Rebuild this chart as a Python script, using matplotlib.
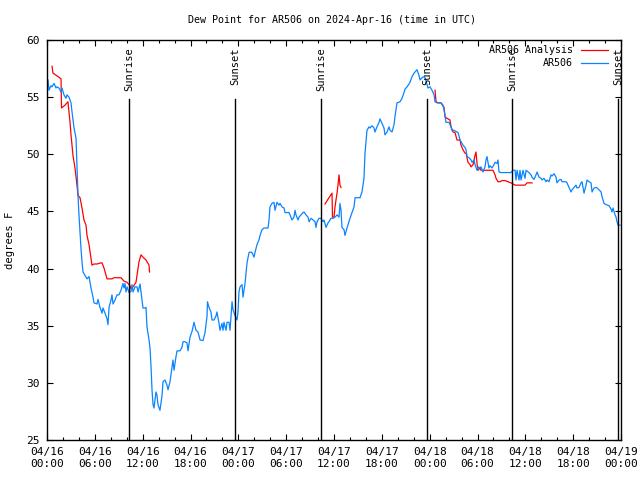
import pandas as pd
import matplotlib
matplotlib.use("Agg")
import matplotlib.pyplot as plt
import matplotlib.dates as mdates
import matplotlib.transforms as mtransforms

plt.rcParams['font.family'] = ['DejaVu Sans Mono']
plt.rcParams['font.size'] = 8

START = pd.Timestamp('2024-04-16 00:00')

# AR506 observations: hours since 04/16 00:00 UTC, dew point (degF)
obs_hours = [0.13, 0.25, 0.5, 0.63, 0.88, 1.13, 1.25, 1.5, 1.76, 1.88, 2.13, 2.38, 2.5, 2.76,
             3.01, 3.14, 3.39, 3.64, 3.76, 3.89, 4.01, 4.26, 4.39, 4.52, 4.77, 5.02, 5.27, 5.52,
             5.77, 5.9, 6.27, 6.4, 6.65, 6.9, 7.02, 7.28, 7.53, 7.65, 7.78, 8.03, 8.15, 8.28,
             8.53, 8.78, 9.03, 9.28, 9.53, 9.66, 9.78, 9.91, 10.04, 10.29, 10.54, 10.66, 10.79,
             11.04, 11.29, 11.42, 11.67, 11.92, 12.04, 12.29, 12.42, 12.54, 12.8, 12.92, 13.05,
             13.17, 13.3, 13.42, 13.67, 13.8, 13.92, 14.17, 14.43, 14.55, 14.8, 15.05, 15.18,
             15.43, 15.68, 15.8, 15.93, 16.18, 16.31, 16.68, 16.93, 17.06, 17.31, 17.56, 17.69,
             17.94, 18.19, 18.31, 18.44, 18.69, 18.94, 19.2, 19.57, 19.82, 20.07, 20.13, 20.32,
             20.57, 20.7, 20.95, 21.2, 21.32, 21.58, 21.7, 21.95, 22.08, 22.2, 22.45, 22.58,
             22.83, 22.96, 23.21, 23.33, 23.58, 23.83, 23.96, 24.08, 24.21, 24.46, 24.59, 24.84,
             25.09, 25.34, 25.46, 25.72, 25.97, 26.09, 26.34, 26.59, 26.72, 26.97, 27.22, 27.72,
             27.85, 27.97, 28.22, 28.47, 28.6, 28.85, 29.1, 29.23, 29.48, 29.73, 29.86, 30.36,
             30.48, 30.73, 30.98, 31.11, 31.23, 31.49, 31.61, 31.86, 32.11, 32.24, 32.49, 32.74,
             32.87, 33.12, 33.37, 33.62, 33.74, 33.87, 34.12, 34.37, 34.62, 34.75, 35.0, 35.25,
             35.37, 35.62, 35.88, 36.13, 36.38, 36.63, 36.75, 36.88, 37.0, 37.26, 37.38, 37.63,
             37.88, 38.01, 38.26, 38.51, 38.64, 39.26, 39.51, 39.76, 39.89, 40.14, 40.39, 40.52,
             40.77, 41.02, 41.14, 41.39, 41.65, 41.77, 42.02, 42.27, 42.4, 42.65, 42.9, 43.03,
             43.28, 43.53, 43.65, 43.9, 44.28, 44.53, 44.78, 44.91, 45.16, 45.41, 45.53, 45.79,
             46.04, 46.16, 46.41, 46.66, 46.79, 47.04, 47.29, 47.42, 47.79, 48.04, 48.3, 48.55,
             48.67, 48.92, 49.42, 49.67, 49.8, 49.93, 50.05, 50.43, 50.68, 50.8, 51.05, 51.31,
             51.56, 51.81, 51.93, 52.18, 52.43, 52.56, 52.69, 52.94, 53.19, 53.31, 53.56, 53.69,
             53.94, 54.06, 54.32, 54.44, 54.69, 54.94, 55.07, 55.19, 55.44, 55.57, 55.82, 56.07,
             56.2, 56.45, 56.57, 56.7, 56.95, 58.2, 58.46, 58.71, 58.83, 58.96, 59.21, 59.33,
             59.46, 59.71, 59.96, 60.09, 60.46, 60.71, 60.84, 61.09, 61.34, 61.47, 61.72, 61.97,
             62.09, 62.34, 62.6, 62.72, 62.97, 63.22, 63.35, 63.6, 63.85, 63.97, 64.23, 64.48,
             64.6, 65.1, 65.23, 65.48, 65.73, 65.86, 66.11, 66.36, 66.48, 66.73, 66.99, 67.11,
             67.36, 67.61, 67.74, 67.99, 68.24, 68.37, 68.62, 68.87, 68.99, 69.24, 69.5, 69.62,
             69.87, 70.12, 70.5, 70.75, 70.87, 71.0, 71.25, 71.38, 71.5, 71.63, 71.88]
obs_dewpt = [56.5, 55.6, 56.0, 55.9, 56.2, 55.8, 55.9, 55.8, 55.45, 55.8, 55.2, 54.9, 55.2, 55.0,
             54.5, 53.7, 52.3, 51.4, 49.1, 46.4, 44.7, 41.8, 40.6, 39.7, 39.4, 39.1, 39.3, 38.3,
             37.5, 37.0, 36.9, 37.3, 36.6, 36.1, 36.55, 36.1, 35.6, 35.1, 36.6, 37.25, 37.7, 36.9,
             37.25, 37.7, 37.7, 38.1, 38.7, 38.3, 38.7, 37.95, 38.4, 37.9, 38.0, 38.6, 37.95,
             38.4, 38.4, 37.95, 38.65, 37.25, 36.55, 36.55, 36.6, 34.9, 33.75, 33.05, 31.4,
             29.4, 28.1, 27.8, 29.2, 28.9, 28.1, 27.6, 28.9, 30.1, 30.25, 29.8, 29.4,
             30.1, 31.4, 32.0, 31.1, 32.3, 32.8, 32.8, 33.1, 33.6, 33.6, 33.5, 32.8,
             34.0, 34.5, 34.9, 35.3, 34.6, 34.45, 33.75, 33.7, 34.4, 35.8, 37.1, 36.6,
             36.2, 35.5, 35.5, 35.85, 36.2, 35.2, 34.6, 35.2, 34.6, 35.3, 34.6, 35.3,
             35.3, 34.6, 37.1, 36.4, 35.9, 35.5, 36.2, 37.95, 38.4, 38.6, 37.5, 38.7,
             40.5, 41.4, 41.45, 41.4, 41.0, 41.4, 42.1, 42.5, 42.9, 43.4, 43.55, 43.55,
             44.25, 45.4, 45.7, 45.8, 45.1, 45.8, 45.55, 45.7, 45.4, 45.3, 44.9, 44.9,
             44.7, 44.25, 44.5, 45.1, 44.7, 44.25, 44.5, 44.7, 44.9, 44.95, 44.7, 44.5,
             44.1, 44.4, 44.25, 44.1, 43.6, 44.1, 44.4, 44.4, 44.1, 44.25, 43.6, 44.0,
             44.1, 44.4, 44.4, 44.5, 44.7, 44.5, 45.7, 45.1, 43.6, 43.4, 42.9, 43.55,
             44.1, 44.4, 44.9, 45.4, 46.2, 46.2, 46.7, 47.9, 50.1, 52.1, 52.4, 52.3,
             52.5, 52.3, 51.95, 52.4, 52.8, 53.1, 52.7, 52.3, 51.7, 51.95, 52.4, 52.1,
             51.95, 52.6, 53.3, 54.5, 54.6, 54.9, 55.4, 55.7, 55.9, 56.15, 56.3, 56.8,
             57.1, 57.2, 57.4, 56.9, 56.5, 56.7, 56.8, 56.7, 55.8, 55.9, 55.6, 55.2,
             54.6, 54.5, 54.5, 54.3, 53.9, 53.3, 52.8, 52.8, 52.4, 52.1, 52.1, 52.0,
             51.9, 51.25, 51.1, 50.8, 50.6, 50.4, 49.8, 49.7, 49.5, 49.3, 49.5, 49.1,
             48.6, 48.9, 48.8, 48.9, 48.45, 48.9, 49.5, 49.8, 48.8, 49.0, 48.8, 49.1,
             49.3, 49.2, 49.5, 48.45, 48.4, 48.4, 48.6, 48.6, 47.75, 48.6, 47.75, 48.6,
             47.75, 48.6, 47.9, 48.6, 48.4, 48.2, 48.0, 47.8, 48.2, 48.45, 48.0, 47.9,
             47.75, 47.9, 47.6, 47.75, 47.6, 48.2, 48.1, 48.3, 48.0, 47.5, 47.75, 47.8,
             47.6, 47.6, 47.5, 47.1, 46.7, 46.9, 47.1, 47.3, 47.05, 47.1, 47.5, 47.6,
             46.6, 47.3, 47.75, 47.6, 47.5, 46.7, 47.05, 47.1, 47.05, 46.9, 46.7, 46.3,
             45.7, 45.6, 45.5, 45.2, 44.95, 45.3, 44.7, 44.5, 44.1, 43.8, 43.8]

# AR506 Analysis: three separate runs
ana1_hours = [0.63, 0.75, 1.38, 1.76, 1.82, 2.26, 2.63, 2.76, 2.89, 3.01, 3.26, 3.51, 3.76,
              3.89, 4.14, 4.39, 4.64, 4.89, 5.02, 5.27, 5.52, 5.64, 5.9, 6.27, 6.77, 6.9,
              7.15, 7.53, 8.15, 8.4, 9.28, 9.66, 10.04, 10.41, 10.54, 10.79, 11.16, 11.29,
              11.54, 11.79, 12.04, 12.42, 12.54, 12.8, 12.86]
ana1_dewpt = [57.7, 57.1, 56.8, 56.6, 54.05, 54.3, 54.6, 53.7, 52.8, 51.7, 49.9, 48.8, 47.3,
              46.4, 46.2, 45.3, 44.25, 43.8, 42.9, 42.1, 40.9, 40.3, 40.4, 40.4, 40.5, 40.5,
              40.05, 39.1, 39.1, 39.2, 39.2, 38.9, 38.8, 38.5, 38.2, 38.4, 38.8, 39.4,
              40.6, 41.2, 41.0, 40.75, 40.6, 40.3, 39.7]
ana2_hours = [34.87, 35.37, 35.75, 35.81, 36.0, 36.13, 36.25, 36.38, 36.5, 36.63, 36.75, 36.88]
ana2_dewpt = [45.65, 46.2, 46.6, 44.5, 44.5, 45.4, 46.0, 46.6, 47.3, 48.2, 47.3, 47.1]
ana3_hours = [48.67, 48.8, 49.05, 49.42, 49.8, 49.93, 50.05, 50.55, 50.68, 50.93, 51.18, 51.43,
              51.81, 51.93, 52.18, 52.43, 52.56, 52.81, 53.06, 53.19, 53.44, 53.69, 53.81,
              53.94, 54.06, 54.32, 54.44, 55.95, 56.2, 56.32, 56.57, 56.82, 57.07, 57.45,
              57.83, 58.2, 58.46, 58.71, 59.46, 59.96, 60.21, 60.46, 60.84]
ana3_dewpt = [55.6, 54.6, 54.5, 54.5, 54.1, 53.3, 53.2, 53.0, 52.4, 51.95, 51.9, 51.25,
              51.25, 50.8, 50.4, 50.1, 50.1, 49.3, 49.1, 48.9, 49.1, 49.9, 50.2,
              49.2, 48.6, 48.8, 48.6, 48.6, 48.2, 47.9, 47.6, 47.6, 47.7, 47.7,
              47.6, 47.5, 47.4, 47.3, 47.3, 47.3, 47.5, 47.5, 47.5]

sunrise_hours = [10.29, 34.38, 58.30]
sunset_hours = [23.59, 47.68, 71.64]


def to_time(hours):
    return START + pd.to_timedelta(pd.Series(hours), unit='h')


fig = plt.figure(figsize=(6.4, 4.8), dpi=100)
ax = fig.add_axes([47 / 640, 40 / 480, 574 / 640, 400 / 480])

red = '#ff0000'
blue = '#0a84ff'
ax.plot(to_time(ana1_hours), ana1_dewpt, color=red, lw=0.9, label='AR506 Analysis')
ax.plot(to_time(ana2_hours), ana2_dewpt, color=red, lw=0.9)
ax.plot(to_time(ana3_hours), ana3_dewpt, color=red, lw=0.9)
ax.plot(to_time(obs_hours), obs_dewpt, color=blue, lw=0.9, label='AR506')

trans = mtransforms.blended_transform_factory(ax.transData, ax.transAxes)
for name, hrs in (('Sunrise', sunrise_hours), ('Sunset', sunset_hours)):
    for t in to_time(hrs):
        ax.axvline(t, ymin=0, ymax=0.852, color='black', lw=1.0)
        ax.text(t, 0.982, name, transform=trans, rotation=90, ha='center', va='top',
                fontsize=7.5)

ax.set_xlim(START, START + pd.Timedelta(hours=72))
ax.set_ylim(25, 60)
ax.set_yticks(range(25, 61, 5))
ax.xaxis.set_major_locator(mdates.HourLocator(byhour=range(0, 24, 6)))
ax.xaxis.set_minor_locator(mdates.HourLocator(interval=2))
ax.xaxis.set_major_formatter(mdates.DateFormatter('%m/%d\n%H:%M'))
ax.tick_params(which='both', direction='in', top=True, right=True, colors='black')
ax.tick_params(which='major', length=4.5, width=0.8, pad=5)
ax.tick_params(which='minor', length=2.5, width=0.8)
for sp in ax.spines.values():
    sp.set_linewidth(1.0)

ax.set_ylabel('degrees F', labelpad=8, fontsize=7.6)
fig.text(0.519, 1 - 20 / 480, 'Dew Point for AR506 on 2024-Apr-16 (time in UTC)',
         ha='center', va='center', fontsize=7.2)

ax.legend(loc='upper right', bbox_to_anchor=(0.99, 1.004), frameon=False, markerfirst=False,
          handlelength=2.7, borderaxespad=0.3, labelspacing=0.3, handletextpad=0.8,
          fontsize=7.2)

fig.savefig('out.png', dpi=100)
